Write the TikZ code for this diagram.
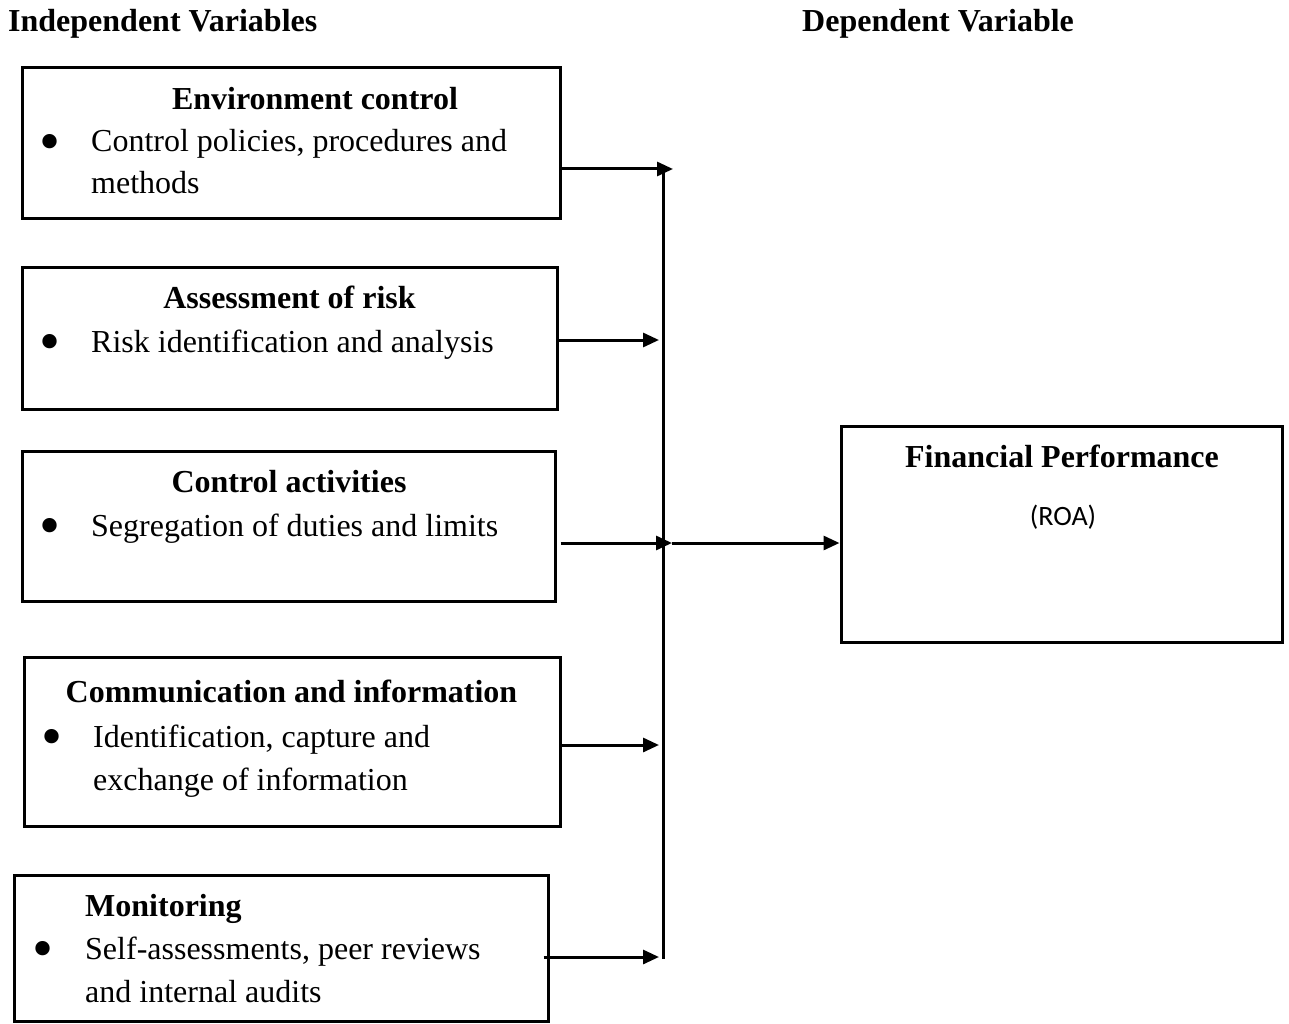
\documentclass[tikz,border=0pt]{standalone}
\usepackage{fontspec}
\setmainfont{Liberation Serif}
\newfontfamily\roafont{Carlito}
\usetikzlibrary{arrows.meta,calc}
\begin{document}
\begin{tikzpicture}[x=1pt,y=-1pt,
  box/.style={draw,line width=3pt,inner sep=0pt},
  hd/.style={font=\fontsize{32}{38}\selectfont\bfseries,inner sep=0pt},
  bd/.style={font=\fontsize{32}{38}\selectfont,inner sep=0pt,anchor=base west},
  blt/.style={font=\fontsize{60}{60}\selectfont,inner sep=0pt,anchor=center},
  arr/.style={line width=3pt,-{Triangle[length=16pt,width=14pt]}},
  bus/.style={line width=3pt}
]
\useasboundingbox (0,0) rectangle (1289,1024);

% headings
\node[hd,anchor=base west] (iv) at (8,32) {Independent Variables};
\node[hd,anchor=base west] (dv) at (802,32) {Dependent Variable};

% boxes
\node[box,minimum width=538pt,minimum height=151pt] (b1) at (291,143.5) {};
\node[box,minimum width=535pt,minimum height=142pt] (b2) at (289.5,338) {};
\node[box,minimum width=533pt,minimum height=150pt] (b3) at (288.5,526) {};
\node[box,minimum width=536pt,minimum height=169pt] (b4) at (292,741.5) {};
\node[box,minimum width=534pt,minimum height=146pt] (b5) at (281,948) {};
\node[box,minimum width=441pt,minimum height=216pt] (b6) at (1061.5,534) {};

% box 1
\node[hd,anchor=base] (t1) at (315,110) {Environment control};
\node[blt] (p1) at (50,148) {•};
\node[bd] (l1a) at (91,152) {Control policies, procedures and};
\node[bd] (l1b) at (91,194) {methods};

% box 2
\node[hd,anchor=base] (t2) at (289.5,308) {Assessment of risk};
\node[blt] (p2) at (50,348) {•};
\node[bd] (l2a) at (91,352) {Risk identification and analysis};

% box 3
\node[hd,anchor=base] (t3) at (289,492) {Control activities};
\node[blt] (p3) at (50,532) {•};
\node[bd] (l3a) at (91,536) {Segregation of duties and limits};

% box 4
\node[hd,anchor=base] (t4) at (291.5,702) {Communication and information};
\node[blt] (p4) at (52,743) {•};
\node[bd] (l4a) at (93,747) {Identification, capture and};
\node[bd] (l4b) at (93,790) {exchange of information};

% box 5
\node[hd,anchor=base west] (t5) at (85,916) {Monitoring};
\node[blt] (p5) at (43,955) {•};
\node[bd] (l5a) at (85,959) {Self-assessments, peer reviews};
\node[bd] (l5b) at (85,1002) {and internal audits};

% box 6
\node[hd,anchor=base] (t6) at (1062,467) {Financial Performance};
\node[inner sep=0pt,anchor=base,font=\roafont\fontsize{28}{34}\selectfont] (roa) at (1063,525) {(ROA)};

% connector points
\coordinate (j1) at (673,169);
\coordinate (j2) at (659,340);
\coordinate (j3) at (672,543);
\coordinate (j4) at (659,745);
\coordinate (j5) at (659,957);
\coordinate (bt) at (663,173);
\coordinate (bb) at (663,958.5);

% bus
\draw[bus] (bt) -- (bb);

% arrows
\draw[arr] (b1.east |- j1) -- (j1);
\draw[arr] (b2.east |- j2) -- (j2);
\draw[arr] ($(b3.east |- j3)+(4,0)$) -- (j3);
\draw[arr] (j3) -- (b6.west |- j3);
\draw[arr] (b4.east |- j4) -- (j4);
\draw[arr] ($(b5.east |- j5)+(-6,0)$) -- (j5);
\end{tikzpicture}
\end{document}
